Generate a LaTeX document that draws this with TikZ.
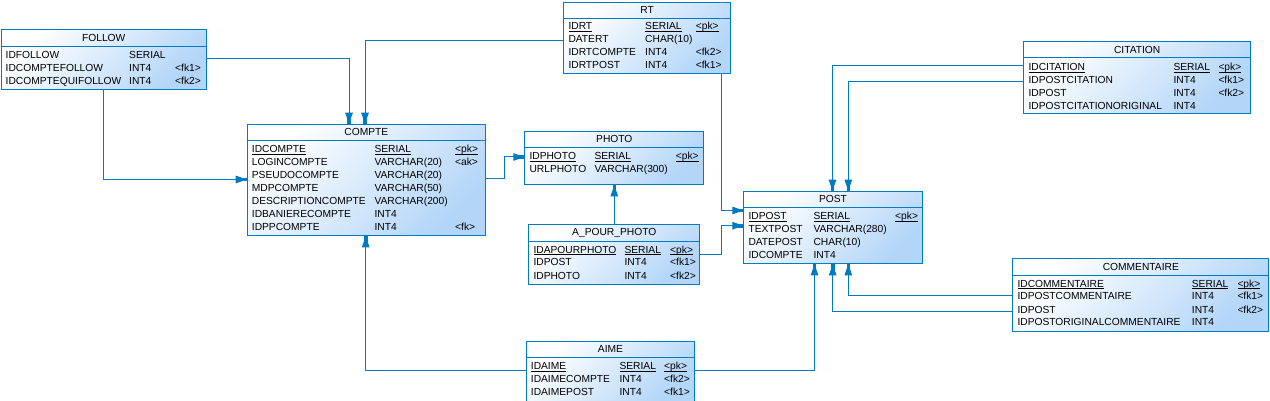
\documentclass[tikz,border=0pt]{standalone}
\usepackage{fontspec}
\setmainfont{Liberation Sans}
\usetikzlibrary{arrows.meta,positioning}
\definecolor{erline}{RGB}{0,122,192}
\definecolor{erfill}{RGB}{178,213,248}
\newcommand{\pk}[1]{\underline{\smash{#1}}}

\begin{document}
\begin{tikzpicture}[x=1pt, y=-1pt,
    every node/.style={font=\fontsize{10.25}{13}\selectfont, text=black},
    tbl/.style={rectangle, draw=erline, line width=1pt, top color=white,
                bottom color=erfill, shading angle=45, inner sep=0pt,
                anchor=north west},
    ttl/.style={inner sep=0pt},
    body/.style={inner sep=0pt, anchor=base west},
    hline/.style={draw=erline, line width=1pt},
    fk/.style={draw=erline, line width=1pt,
               -{Triangle[length=11pt,width=7.5pt,sep=-7pt]Rectangle[length=7pt,width=3.6pt]}},
  ]
  \useasboundingbox (0,0) rectangle (1270,401);

  % tables
  \node[tbl, minimum width=204.5pt, minimum height=59.5pt] (follow) at (1,29.5) {};
  \node[tbl, minimum width=238.3pt, minimum height=111.6pt] (compte) at (246.7,123.7) {};
  \node[tbl, minimum width=179pt, minimum height=53.6pt] (photo) at (524.3,130.7) {};
  \node[tbl, minimum width=171pt, minimum height=60pt] (apphoto) at (528.3,224.3) {};
  \node[tbl, minimum width=178.4pt, minimum height=72.6pt] (post) at (743.3,190.7) {};
  \node[tbl, minimum width=166.7pt, minimum height=71pt] (rt) at (563.3,1.7) {};
  \node[tbl, minimum width=226.7pt, minimum height=72.3pt] (citation) at (1023.3,41) {};
  \node[tbl, minimum width=256pt, minimum height=72.7pt] (commentaire) at (1012.3,258.3) {};
  \node[tbl, minimum width=168.6pt, minimum height=60pt] (aime) at (525.7,340.7) {};

  \foreach \t in {follow,compte,photo,apphoto,post,rt,citation,commentaire,aime}
    \draw[hline] ([yshift=-17pt]\t.north west) -- ([yshift=-17pt]\t.north east);

  \node[ttl] (follow-t) at ([yshift=-8.5pt]follow.north) {FOLLOW};
  \node[ttl] (compte-t) at ([yshift=-8.5pt]compte.north) {COMPTE};
  \node[ttl] (photo-t) at ([yshift=-8.5pt]photo.north) {PHOTO};
  \node[ttl] (apphoto-t) at ([yshift=-8.5pt]apphoto.north) {A\_POUR\_PHOTO};
  \node[ttl] (post-t) at ([yshift=-8.5pt]post.north) {POST};
  \node[ttl] (rt-t) at ([yshift=-8.5pt]rt.north) {RT};
  \node[ttl] (citation-t) at ([yshift=-8.5pt]citation.north) {CITATION};
  \node[ttl] (commentaire-t) at ([yshift=-8.5pt]commentaire.north) {COMMENTAIRE};
  \node[ttl] (aime-t) at ([yshift=-8.5pt]aime.north) {AIME};

  % columns
  \node[body] (follow-r) at ([xshift=4.5pt,yshift=-28.7pt]follow.north west)
    {\begin{tabular}[t]{@{}p{123.5pt}@{}p{46pt}@{}l@{}}
      IDFOLLOW & SERIAL & \\
      IDCOMPTEFOLLOW & INT4 & <fk1>\\
      IDCOMPTEQUIFOLLOW & INT4 & <fk2>
    \end{tabular}};
  \node[body] (compte-r) at ([xshift=5pt,yshift=-28.7pt]compte.north west)
    {\begin{tabular}[t]{@{}p{122.6pt}@{}p{80.7pt}@{}l@{}}
      \pk{IDCOMPTE} & \pk{SERIAL} & \pk{<pk>}\\
      LOGINCOMPTE & VARCHAR(20) & <ak>\\
      PSEUDOCOMPTE & VARCHAR(20) & \\
      MDPCOMPTE & VARCHAR(50) & \\
      DESCRIPTIONCOMPTE & VARCHAR(200) & \\
      IDBANIERECOMPTE & INT4 & \\
      IDPPCOMPTE & INT4 & <fk>
    \end{tabular}};
  \node[body] (photo-r) at ([xshift=5pt,yshift=-28.7pt]photo.north west)
    {\begin{tabular}[t]{@{}p{65pt}@{}p{81.4pt}@{}l@{}}
      \pk{IDPHOTO} & \pk{SERIAL} & \pk{<pk>}\\
      URLPHOTO & VARCHAR(300) &
    \end{tabular}};
  \node[body] (apphoto-r) at ([xshift=5pt,yshift=-28.7pt]apphoto.north west)
    {\begin{tabular}[t]{@{}p{91pt}@{}p{45.7pt}@{}l@{}}
      \pk{IDAPOURPHOTO} & \pk{SERIAL} & \pk{<pk>}\\
      IDPOST & INT4 & <fk1>\\
      IDPHOTO & INT4 & <fk2>
    \end{tabular}};
  \node[body] (post-r) at ([xshift=5pt,yshift=-28.7pt]post.north west)
    {\begin{tabular}[t]{@{}p{65pt}@{}p{81.7pt}@{}l@{}}
      \pk{IDPOST} & \pk{SERIAL} & \pk{<pk>}\\
      TEXTPOST & VARCHAR(280) & \\
      DATEPOST & CHAR(10) & \\
      IDCOMPTE & INT4 &
    \end{tabular}};
  \node[body] (rt-r) at ([xshift=5pt,yshift=-27.7pt]rt.north west)
    {\begin{tabular}[t]{@{}p{76.7pt}@{}p{50.7pt}@{}l@{}}
      \pk{IDRT} & \pk{SERIAL} & \pk{<pk>}\\
      DATERT & CHAR(10) & \\
      IDRTCOMPTE & INT4 & <fk2>\\
      IDRTPOST & INT4 & <fk1>
    \end{tabular}};
  \node[body] (citation-r) at ([xshift=5pt,yshift=-29.4pt]citation.north west)
    {\begin{tabular}[t]{@{}p{145pt}@{}p{45pt}@{}l@{}}
      \pk{IDCITATION} & \pk{SERIAL} & \pk{<pk>}\\
      IDPOSTCITATION & INT4 & <fk1>\\
      IDPOST & INT4 & <fk2>\\
      IDPOSTCITATIONORIGINAL & INT4 &
    \end{tabular}};
  \node[body] (commentaire-r) at ([xshift=5pt,yshift=-28.7pt]commentaire.north west)
    {\begin{tabular}[t]{@{}p{174.4pt}@{}p{45.6pt}@{}l@{}}
      \pk{IDCOMMENTAIRE} & \pk{SERIAL} & \pk{<pk>}\\
      IDPOSTCOMMENTAIRE & INT4 & <fk1>\\
      IDPOST & INT4 & <fk2>\\
      IDPOSTORIGINALCOMMENTAIRE & INT4 &
    \end{tabular}};
  \node[body] (aime-r) at ([xshift=5pt,yshift=-28.7pt]aime.north west)
    {\begin{tabular}[t]{@{}p{88.6pt}@{}p{44.7pt}@{}l@{}}
      \pk{IDAIME} & \pk{SERIAL} & \pk{<pk>}\\
      IDAIMECOMPTE & INT4 & <fk2>\\
      IDAIMEPOST & INT4 & <fk1>
    \end{tabular}};

  % references
  \coordinate (c1) at (349,59);
  \coordinate (c2) at (365,40.7);
  \coordinate (c3) at (103.5,179.5);
  \coordinate (c4a) at (504.3,179);
  \coordinate (c4b) at (504.3,157);
  \coordinate (c5) at (614.3,200);
  \coordinate (c6a) at (721,254);
  \coordinate (c6b) at (721,225.7);
  \coordinate (c7) at (721.5,210.5);
  \coordinate (c8) at (832.5,65.7);
  \coordinate (c9) at (848.3,81.7);
  \coordinate (c10) at (848.3,295);
  \coordinate (c11) at (832.7,311.3);
  \coordinate (c12) at (814.5,370.3);
  \coordinate (c13) at (365.7,370.3);

  \draw[fk] (follow.east |- c1) -| (compte.north -| c1);
  \draw[fk] (rt.west |- c2) -| (compte.north -| c2);
  \draw[fk] (follow.south -| c3) |- (compte.west |- c3);
  \draw[fk] (compte.east |- c4a) -- (c4a) -- (c4b) -- (photo.west |- c4b);
  \draw[fk] (apphoto.north -| c5) -- (photo.south -| c5);
  \draw[fk] (apphoto.east |- c6a) -- (c6a) -- (c6b) -- (post.west |- c6b);
  \draw[fk] (rt.south -| c7) |- (post.west |- c7);
  \draw[fk] (citation.west |- c8) -| (post.north -| c8);
  \draw[fk] (citation.west |- c9) -| (post.north -| c9);
  \draw[fk] (commentaire.west |- c10) -| (post.south -| c10);
  \draw[fk] (commentaire.west |- c11) -| (post.south -| c11);
  \draw[fk] (aime.east |- c12) -| (post.south -| c12);
  \draw[fk] (aime.west |- c13) -| (compte.south -| c13);
\end{tikzpicture}
\end{document}
